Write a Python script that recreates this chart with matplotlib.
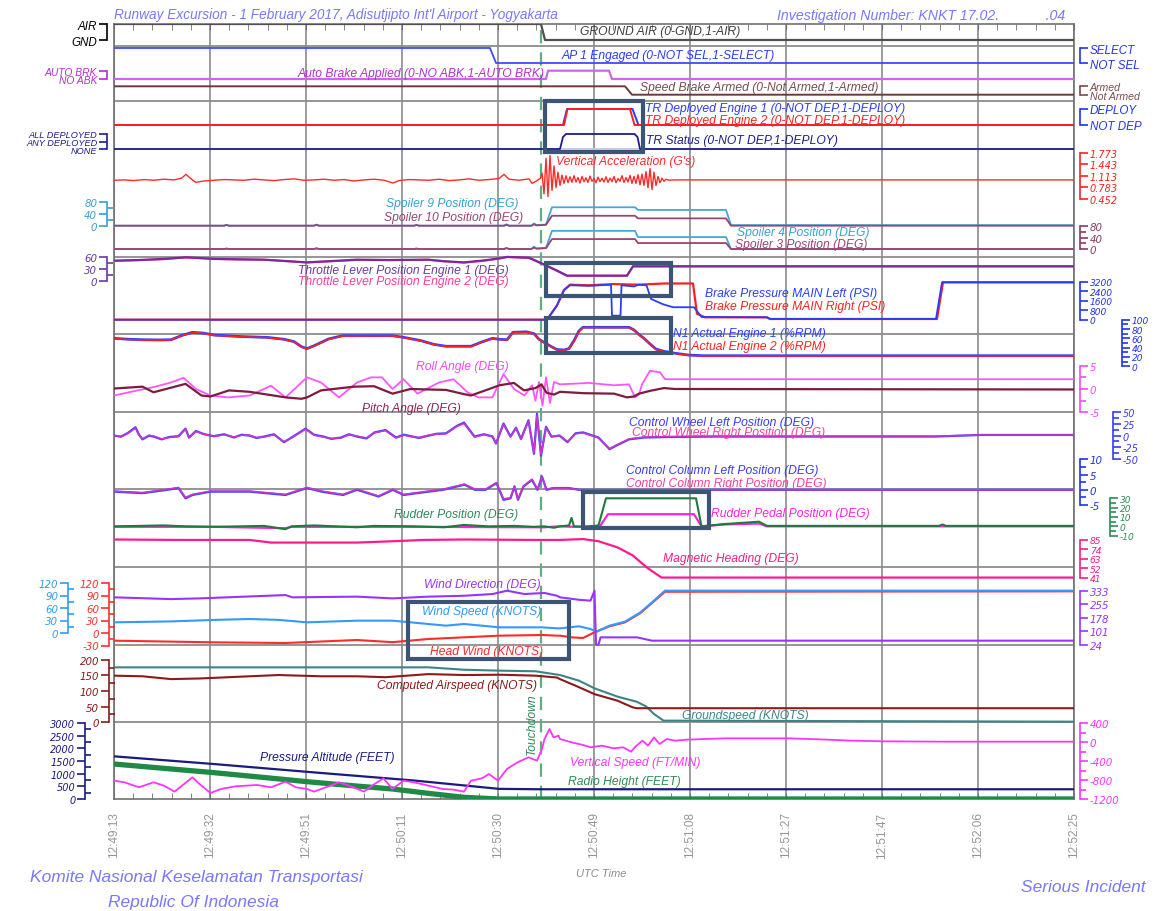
import matplotlib
matplotlib.use("Agg")
import matplotlib.pyplot as plt
from matplotlib.patches import Rectangle

plt.rcParams['font.family'] = ['Liberation Sans', 'DejaVu Sans']
plt.rcParams['font.style'] = 'italic'

# ---------------- data (time = seconds after 12:49:13 UTC) ----------------
time_labels = ["12:49:13", "12:49:32", "12:49:51", "12:50:11", "12:50:30", "12:50:49",
               "12:51:08", "12:51:27", "12:51:47", "12:52:06", "12:52:25"]
t_touchdown = 85.4

t_air = [0, 85.4, 86.2, 192]
gnd_air = [1, 1, 0, 0]
t_ap = [0, 75.2, 76.4, 192]
ap1 = [1, 1, 0, 0]
t_abk = [0, 86.4, 86.8, 99.0, 99.6, 192]
auto_brk = [0, 0, 1, 1, 0, 0]
t_sbk = [0, 102.2, 103.6, 192]
spd_brk = [1, 1, 0, 0]
t_tr1 = [0, 89.8, 90.6, 103.7, 104.9, 192]
tr1 = [0, 0, 1, 1, 0, 0]
t_tr2 = [0, 90.0, 90.7, 103.2, 104.1, 192]
tr2 = [0, 0, 1, 1, 0, 0]
t_trs = [0, 89.2, 89.8, 90.4, 104.1, 104.7, 105.2, 192]
tr_status = [0, 0, 1.6, 2, 2, 1.6, 0, 0]

t_va = [0, 2, 4, 6, 8, 10, 12, 13.5, 14.4, 15.5, 16.4, 18, 20, 22, 24, 26, 28, 30, 32, 34, 36,
        38, 40, 42, 44, 46, 48, 50, 52, 54, 55.8, 57, 59, 61, 63, 65, 67, 69, 71, 73, 75, 77,
        78, 79, 81, 83, 83.6, 84.5, 85.3,
        85.6, 86.0, 86.4, 86.8, 87.2, 87.6, 88.0, 88.4, 88.8, 89.2, 89.6, 90.0, 90.4, 90.8,
        91.2, 91.6, 92.0, 92.4, 92.8, 93.2, 93.6, 94.0, 94.4, 94.8, 95.2, 95.6, 96.0, 96.4,
        96.8, 97.2, 97.6, 98.0, 98.4, 98.8, 99.2, 99.6, 100.0, 100.4, 100.8, 101.2, 101.6,
        102.0, 102.4, 102.8, 103.2, 103.6, 104.0, 104.4, 104.8, 105.2, 105.6, 106.0, 106.4,
        106.8, 107.2, 107.6, 108.0, 108.4, 108.8, 109.2, 109.6, 110.0, 110.4, 111.0, 112.0, 192]
vert_acc = [0.99, 1.00, 0.98, 1.01, 0.99, 1.02, 1.00, 1.05, 1.16, 1.02, 0.93, 0.97, 0.99, 1.01,
            1.00, 0.99, 1.02, 1.00, 0.98, 1.01, 1.03, 0.99, 1.00, 1.02, 0.99, 1.01, 0.97, 1.00,
            1.02, 0.99, 0.91, 0.98, 1.01, 1.00, 0.99, 1.02, 0.98, 1.00, 1.03, 0.99, 1.01, 1.04,
            1.16, 1.02, 0.99, 1.03, 0.90, 0.97, 1.05,
            1.20, 0.60, 1.62, 0.52, 1.70, 0.70, 1.40, 0.78, 1.22, 0.84, 1.14, 0.90, 1.12, 0.92,
            1.09, 0.93, 1.12, 0.94, 1.07, 0.91, 1.10, 0.95, 1.06, 0.93, 1.11, 0.96, 1.04, 0.92,
            1.08, 0.95, 1.05, 0.94, 1.09, 0.93, 1.05, 0.95, 1.10, 0.92, 1.04, 0.96, 1.12, 0.93,
            1.07, 0.94, 1.13, 0.90, 1.10, 0.90, 1.15, 0.86, 1.17, 0.84, 1.24, 0.78, 1.33, 0.72,
            1.22, 0.84, 1.10, 0.92, 1.05, 0.96, 1.02, 0.99, 1.00, 1.00]

t_spl = [0, 22, 22.5, 23, 40, 40.5, 41, 60, 60.5, 61, 78, 78.5, 79, 83.5, 84, 84.5, 86.4, 87.6,
         104.2, 104.8, 122.4, 123.4, 192]
spoiler9 = [0, 0, 3, 0, 0, 4, 0, 0, 3, 0, 0, 5, 0, 0, 8, 2, 4, 63, 63, 54, 54, 2, 2]
spoiler10 = [0, 0, 2, 0, 0, 3, 0, 0, 2, 0, 0, 3, 0, 0, 5, 1, 3, 34, 34, 25, 25, 0, 0]
spoiler4 = [0, 0, 2, 0, 0, 3, 0, 0, 2, 0, 0, 4, 0, 0, 8, 2, 4, 64, 64, 42, 42, 0, 0]
spoiler3 = [0, 0, 1, 0, 0, 2, 0, 0, 1, 0, 0, 3, 0, 0, 5, 1, 3, 35, 35, 21, 21, 0, 0]

t_thr = [0, 5, 10, 14.4, 20, 25, 30, 38.6, 43, 48.6, 55, 62.8, 66, 70, 74, 77.2, 78.6, 83,
         85.8, 88.6, 90.6, 102.6, 103.8, 192]
thr1 = [51.5, 53, 56, 60, 56, 55, 54, 47, 50, 54, 53, 54, 50, 47, 52, 57.4, 61, 59, 43, 26,
        13, 13, 37, 37]
thr2 = [50.5, 52.5, 55, 59.5, 55.5, 54, 53.5, 46.5, 49.5, 53, 52.5, 53.5, 49.5, 46, 51, 57,
        60.5, 58, 42, 25, 12.5, 12.5, 36.5, 36.5]

t_brk_r = [0, 86.6, 88.6, 90, 91.2, 95, 100, 105, 110, 115.8, 116.6, 118.2, 130.6, 131.2,
           164.6, 165.8, 192]
brake_r = [0, 0, 1200, 2500, 2950, 2900, 3000, 2950, 3050, 3050, 500, 200, 200, 60, 60, 3150, 3150]
t_brk_l = [0, 86.6, 88.6, 90, 91.2, 95, 99.4, 99.6, 101.3, 101.5, 104, 105, 106.5, 107.4,
           109.8, 111.8, 116, 117.5, 130.6, 131.2, 164.4, 165.6, 192]
brake_l = [0, 0, 1200, 2500, 2900, 2850, 2950, 340, 340, 2900, 2800, 2950, 2900, 1750, 1300,
           1050, 1050, 230, 200, 60, 60, 3150, 3150]

t_n1 = [0, 3, 5.7, 9, 11.4, 13.5, 15.7, 18, 20, 25, 30.7, 34, 36, 37.5, 38.6, 40, 42.9, 45.7,
        55.7, 58, 61.4, 64, 66.4, 71.4, 73.5, 75.7, 77, 78.6, 79.8, 82.5, 84, 85, 86, 87.5,
        88.6, 90, 91, 92, 93, 93.8, 103, 104, 105, 106, 107.3, 108.4, 110, 112.2, 115, 118, 192]
n1_eng1 = [60, 58, 57, 56.5, 57, 66, 73, 71, 67, 64, 62, 58, 53, 42, 38, 44, 58.6, 65.7, 65.7,
           62, 55, 47, 43, 43, 52, 60, 58, 57, 73, 74, 70, 58, 51.5, 42, 36, 35, 38, 55, 76,
           83.7, 83.7, 78, 68, 60, 47, 37, 32, 28, 24, 22.7, 22.7]
n1_eng2 = [59.5, 57.5, 56.5, 56, 56.5, 65.5, 72.5, 70.5, 66.5, 63.5, 61.5, 57.5, 52.5, 41.5,
           37.5, 43.5, 58, 65, 65.2, 61.5, 54.5, 46.5, 42.5, 42.5, 51.5, 59.5, 57.5, 56.5, 72.5,
           73.5, 69.5, 57.5, 51, 41.5, 35.5, 34.5, 37.5, 54, 75, 83.2, 83.2, 77.5, 67.5, 59.5,
           46.5, 36.5, 31.5, 27.5, 23.5, 22.2, 22.2]

t_roll = [0, 4.3, 7.9, 11.4, 13.9, 16.4, 19.3, 22.9, 27.1, 31.4, 34.3, 38.6, 41.4, 45, 48.6,
          51.4, 53.6, 55.7, 57.9, 60.7, 65, 67.9, 70.7, 72.9, 75.7, 77.9, 80, 82.1, 83.6, 84.3,
          85.0, 85.7, 86.4, 87.2, 88.0, 89.2, 95, 100, 103, 104.2, 105.0, 105.6, 107.2, 109.2,
          110.2, 192]
roll = [-1.4, -0.4, 0.4, 1.4, 2.4, 0, -1.4, -1.8, -1.4, 0.7, -1.8, 2.5, 1.4, -1.8, 1.4, 2.5,
        2.5, 0, 2.1, -1, 1.4, 2.1, -0.7, -1.8, -1.8, 3.2, 0, -1.4, 0.8, -2.5, 1.5, -3.6, 2.5,
        -3.0, 1.5, 1.0, 1.3, 0.8, 1.0, -1.8, -1.2, 1.0, 3.9, 3.6, 2.1, 2.1]
t_pitch = [0, 5.7, 7.9, 14.3, 17.5, 19.3, 23, 27.1, 34.3, 37.5, 38.6, 41.4, 48, 52, 55.7, 59.3,
           66.4, 70, 71.4, 77.1, 80, 82, 84.3, 85.5, 86.5, 88, 89.2, 94, 100, 102.6, 104, 105,
           107.2, 110, 112.2, 192]
pitch = [0.1, 0.5, -0.7, 1.1, -1.4, -1.6, -0.3, -0.6, -1.8, -2.1, -1.8, -0.3, 0.5, 0.6, -1.0,
         0, -0.2, -1.1, -1.4, 0.8, 1.3, -0.3, 0.2, 1.0, -0.8, -1.2, -0.6, -0.9, -1.0, -1.8,
         -1.6, -1.0, -0.4, 0.2, 0, -0.1]

t_cw = [0, 1.4, 2.8, 4.3, 5.0, 5.7, 7.0, 7.9, 9.5, 11.0, 12.9, 14.3, 15.0, 16.4, 17.8, 19.3,
        20.0, 22.0, 24.0, 25.5, 27.1, 28.5, 30, 32.0, 34.0, 35.5, 37.0, 38.3, 40.0, 41.9, 43.5,
        45.4, 47.0, 48.6, 50.5, 52.1, 54.3, 56.4, 58.0, 59.3, 61.0, 62.9, 64.5, 66.4, 68.6,
        70.0, 72.1, 74.0, 75.7, 76.4, 77.9, 79.3, 80.4, 81.4, 82.9, 84.0, 84.6, 85.4, 86.4,
        87.5, 89.1, 90.7, 92.3, 93.8, 96.9, 99.1, 100.7, 103.0, 106.0, 110.6, 119.8, 164.2,
        173.4, 192]
wheel_l = [0, -2, 6, 18, 2, -8, 0, -2, -8, -3, -1, 15, -4, 10, 4, 0, -1, 3, -4, 2, 0, -5, -2,
           3, -14, -4, 6, 15, 2, -2, -7, -4, 3, -2, -6, 7, 12, -4, 2, -1, -5, 0, 4, 5, 21, 28,
           -2, 3, -2, -17, 26, -2, 17, -7, 33, -39, 47, -43, 19, -2, 0, -14, 5, 7, -4, -29, -20,
           -8, -4, -3, -2, -2, 1.5, 1.5]
wheel_r = [1, -3, 5, 16, 1, -7, 1, -1, -7, -4, -2, 14, -5, 9, 3, 1, -2, 2, -3, 1, 1, -4, -3,
           2, -13, -5, 5, 14, 1, -3, -6, -5, 2, -1, -5, 6, 11, -5, 1, -2, -4, 1, 3, 4, 20, 26,
           -3, 2, -1, -16, 24, -3, 16, -8, 31, -37, 44, -41, 17, -3, 1, -13, 4, 6, -5, -28, -19,
           -7, -3, -2, -1, -1, 1.5, 1.5]

t_cc = [0, 5.7, 10.7, 12.9, 14.3, 15.7, 19.3, 27.1, 34.3, 38.6, 41.5, 45.8, 48.6, 52.9, 55.8,
        57.9, 62.9, 65.8, 70.1, 72.2, 74.3, 76.5, 77.9, 79.3, 80.1, 80.8, 81.9, 83.6, 84.7,
        85.6, 86.5, 87.9, 89.2, 91, 93, 192]
column_l = [-0.6, -1.1, 0, 0.6, -2.8, -1.7, -0.6, -0.6, -1.7, 0.6, -0.6, -1.7, 0, -2.2, 0,
            -1.7, -0.6, 0, 1.7, 0, 0, 2.2, -3.3, -2.8, 1.1, -3.3, 1.1, 3.3, 0, 4.4, 0, 0.6,
            0.6, 0.6, 0, 0]
column_r = [-0.4, -0.9, 0.2, 0.8, -2.5, -1.5, -0.4, -0.4, -1.5, 0.8, -0.4, -1.5, 0.2, -2.0,
            0.2, -1.5, -0.4, 0.2, 1.9, 0.2, 0.2, 2.4, -3.0, -2.6, 1.3, -3.0, 1.3, 3.5, 0.2,
            4.2, 0.2, 0.6, 0.5, 0.5, 0, 0]

t_rud = [0, 10, 14.3, 20, 30, 34.3, 35.5, 40, 48.6, 52, 60, 66, 70, 75, 80, 84, 86, 88, 89.2,
         91.0, 91.5, 92.0, 94, 96.9, 98.4, 116.4, 117.5, 122.1, 125, 129, 130.6, 165, 165.7,
         166.4, 192]
rudder = [0, 1, 0, -0.5, 0.5, -3, 0, 1, -1, 0.5, 0, -1, 1.5, 0, 0.5, -0.5, 0, -1.5, 0, 1, 9, 0,
          -0.5, 1, 30, 30, 0, 2.5, 3.5, 5, 0.5, 0.5, 2, 0.5, 0.5]
t_ped = [0, 20, 34.3, 35.5, 60, 86, 89, 92, 97.2, 98.8, 116.0, 117.5, 122.1, 129, 130.6, 192]
pedal = [-0.5, -0.5, -2, -0.5, -0.5, -1, 0, -0.5, 0, 13, 13, 0, 2, 3, 0, 0]

t_hdg = [0, 12.9, 27.1, 31.4, 40, 48.6, 55.7, 62, 70, 84.3, 89.2, 93.8, 96.9, 100.7, 103.7,
         106.8, 109.5, 192]
heading = [85, 84.5, 84.5, 81.5, 81.5, 81.5, 83, 84.5, 85, 84.5, 84.5, 85.5, 83, 76, 67, 52,
           41.5, 41.5]

t_wd = [0, 11.4, 17.1, 34.3, 35.7, 48.6, 55.7, 62.9, 70, 75.7, 78.6, 82.1, 86.1, 88.6, 89.2,
        93, 95.3, 96.1, 96.4, 96.9, 97.3, 104.6, 107.6, 192]
wind_dir = [295, 285, 289, 308, 295, 299, 289, 299, 304, 314, 333, 314, 320, 304, 295, 281,
            276, 333, 24, 24, 66, 66, 47, 47]
t_ws = [0, 11.4, 20, 27.1, 32.9, 38.6, 48.6, 55.7, 59.3, 66.4, 70, 77.1, 85.7, 88.6, 89.2, 93,
        95.3, 96.5, 99.1, 102.2, 105.3, 107.6, 110.2, 192]
wind_spd = [25.6, 27.8, 31.4, 33.6, 31.5, 25.6, 29.6, 29.6, 25.6, 17.6, 21.6, 13.6, 13.6, 11.2,
            11.2, 16, 9.6, 3.2, 17.6, 27.2, 49.6, 73.6, 101.6, 101.6]
t_hw = [0, 20, 34.3, 48.6, 55.7, 62.9, 70, 77.1, 85.7, 88.6, 89.2, 91.5, 93.8, 96.1, 99.1,
        102.2, 105.3, 107.6, 110.2, 192]
head_wind = [-18.4, -22.4, -24, -16.8, -22, -14.4, -10.4, -6.4, -4.8, -6.4, -6.4, -10.4, -12,
             1.6, 16, 25.6, 48, 72, 99, 100]

t_cas = [0, 5.7, 11.4, 17.1, 27.1, 32.9, 41.5, 48.6, 54.3, 62.9, 70, 77.1, 84.3, 88.6, 89.2,
         92.3, 96.1, 100.7, 103.7, 104.5, 192]
cas = [149, 147, 138, 140, 147, 151, 147, 147, 144, 154, 151, 152, 149, 143, 138, 117, 90, 69,
       48, 45, 45]
t_gs = [0, 62.9, 70, 77.1, 84.3, 89.2, 93, 96.1, 100.7, 104.5, 106.4, 108, 109.9, 192]
gs = [175.6, 175.6, 168, 165, 163, 151, 133, 108.6, 82, 66, 51, 26.5, 5.3, 2]

t_pa = [0, 20, 40, 60, 77, 85, 192]
press_alt = [1684, 1380, 1050, 730, 400, 385, 385]
t_rh = [0, 10, 19.3, 30, 38.6, 48, 55.7, 63, 70, 77.1, 192]
radio_ht = [1381, 1210, 1052, 850, 684, 520, 395, 220, 66, 0, 0]
t_vs = [0, 2.1, 5, 7.9, 10, 12.1, 13.6, 15.7, 17.1, 19.3, 21.4, 24.3, 28.6, 31.4, 34.3, 36.4,
        38.6, 40, 42.9, 45, 47.9, 50, 52.1, 53.9, 55.7, 57.9, 60, 62.9, 65.7, 67.9, 70, 71.4,
        73.6, 75, 76.8, 78.6, 80.7, 82.9, 84.6, 85.6, 86.1, 87.1, 87.9, 88.9, 89.2, 91.5, 93.8,
        95.3, 97.6, 99.9, 101.8, 103.4, 104.5, 105.7, 106.8, 108, 109.1, 110.6, 112.2, 114.5,
        122.1, 135.1, 142.8, 147.4, 154.3, 165.7, 192]
vert_spd = [-814, -849, -954, -849, -919, -1045, -919, -744, -884, -1074, -989, -933, -905,
            -954, -835, -954, -989, -1045, -933, -849, -954, -1045, -884, -765, -989, -814,
            -849, -919, -989, -1003, -1045, -814, -765, -674, -814, -568, -428, -323, -393,
            -147, 63, 274, 98, 133, 63, -7, -63, -112, -77, -133, -112, -203, -77, 28, -77, 98,
            -42, 63, 28, 49, 77, 77, 49, 28, 14, 7, 7]

# ---------------- layout ----------------
W, H = 1160, 912
X_L, X_R, Y_T, Y_B = 114, 1074, 25, 800
T_END = 192
rect = [X_L / W, 1 - Y_B / H, (X_R - X_L) / W, (Y_B - Y_T) / H]

fig = plt.figure(figsize=(W / 100, H / 100), dpi=100)
base = fig.add_axes(rect, zorder=0)
base.set_xlim(0, T_END)
base.set_ylim(Y_B, Y_T)
base.set_yticks([])
base.set_xticks([i * T_END / 10 for i in range(11)], time_labels)
base.set_xticks([i * T_END / 50 for i in range(51)], minor=True)
base.tick_params(axis='x', which='both', direction='in', top=True, length=4, color='#707070')
base.tick_params(axis='x', which='major', labelrotation=90, labelsize=8.5, labelcolor='#959595', pad=9)
for lb in base.get_xticklabels():
    lb.set_fontstyle('normal')
base.grid(axis='x', color='#808080', lw=1.1)
for s in base.spines.values():
    s.set_color('#707070')
    s.set_linewidth(1.2)
for y in [47, 102, 258, 335, 412.5, 490, 568, 646, 723]:
    base.axhline(y, color='#8c8c8c', lw=1.3)
base.axhline(150, color='#c8c8e6', lw=1.3)
base.axvline(t_touchdown, ymax=0.995, color='#5fae80', ls=(0, (6, 4)), lw=1.6, zorder=30)


def layer(v_hi, p_hi, v_lo, p_lo, z=2):
    ax = fig.add_axes(rect, zorder=z)
    ax.set_xlim(0, T_END)
    k = (v_hi - v_lo) / (p_lo - p_hi)
    ax.set_ylim(v_lo - (Y_B - p_lo) * k, v_hi + (p_hi - Y_T) * k)
    ax.patch.set_visible(False)
    for s in ax.spines.values():
        s.set_visible(False)
    ax.set_xticks([])
    ax.set_yticks([])
    return ax


def scale(ax, side, off, ticks, labels, color, minor=None, size=None):
    sp = ax.spines[side]
    sp.set_visible(True)
    sp.set_position(('outward', off * 0.72))
    sp.set_bounds(min(ticks), max(ticks))
    sp.set_color(color)
    sp.set_linewidth(1.2)
    ax.set_yticks(ticks, labels)
    if minor:
        ax.set_yticks(minor, minor=True)
    ax.yaxis.set_ticks_position(side)
    ax.tick_params(axis='y', which='major', direction='out', length=6, width=1.2,
                   color=color, labelcolor=color, pad=1)
    ax.tick_params(axis='y', which='minor', direction='in' if side == 'left' else 'out',
                   length=4, width=1.2, color=color)
    numeric = all(lb.lstrip('-').replace('.', '').isdigit() for lb in labels)
    for lb in ax.get_yticklabels():
        if numeric:
            lb.set_family('DejaVu Sans')
            lb.set_fontsize(size or 7.4)
        else:
            lb.set_fontsize(size or 8.4)


# discretes
ax = layer(1, 25, 0, 41)
ax.plot(t_air, gnd_air, color='#505050', lw=1.6)
scale(ax, 'left', 7, [0, 1], ['GND', 'AIR'], 'black')

ax = layer(1, 49, 0, 64)
ax.plot(t_ap, ap1, color='#3a4cff', lw=1.3)
scale(ax, 'right', 6, [0, 1], ['NOT SEL', 'SELECT'], '#2233ee')

ax = layer(1, 71.7, 0, 80)
ax.plot(t_abk, auto_brk, color='#cc66ee', lw=1.6)
scale(ax, 'left', 7, [0, 1], ['NO ABK', 'AUTO BRK'], '#b030d0', size=7.4)

ax = layer(1, 87.3, 0, 95.7)
ax.plot(t_sbk, spd_brk, color='#6b3a3a', lw=1.4)
scale(ax, 'right', 6, [0, 1], ['Not Armed', 'Armed'], '#7b4b4b', size=7.6)

ax = layer(1, 110, 0, 126)
ax.plot(t_tr1, tr1, color='#2a3cff', lw=1.4)
ax.plot(t_tr2, tr2, color='#ff2020', lw=1.4)
scale(ax, 'right', 6, [0, 1], ['NOT DEP', 'DEPLOY'], '#2233ee')

ax = layer(2, 135, 0, 150)
ax.plot(t_trs, tr_status, color='#1c1c8c', lw=1.3)
scale(ax, 'left', 7, [0, 1, 2], ['NONE', 'ANY DEPLOYED', 'ALL DEPLOYED'], '#1c1c8c', size=6.6)

# vertical acceleration
ax = layer(1.773, 154, 0.452, 200)
ax.plot(t_va, vert_acc, color='#ff2a2a', lw=1.0)
scale(ax, 'right', 6, [0.452, 0.783, 1.113, 1.443, 1.773],
      ['0.452', '0.783', '1.113', '1.443', '1.773'], '#ff2020', size=7.0)

# spoilers
ax = layer(80, 203.3, 0, 226.7)
ax.plot(t_spl, spoiler9, color='#44a8d8', lw=1.3)
ax.plot(t_spl, spoiler10, color='#9b4373', lw=1.3)
scale(ax, 'left', 7, [0, 40, 80], ['0', '40', '80'], '#3aa0d0', minor=[20, 60])

ax = layer(80, 227.3, 0, 250)
ax.plot(t_spl, spoiler4, color='#44a8d8', lw=1.3)
ax.plot(t_spl, spoiler3, color='#9b4373', lw=1.3)
scale(ax, 'right', 6, [0, 40, 80], ['0', '40', '80'], '#8b3a62', minor=[20, 60])

# throttle
ax = layer(60, 258.3, 0, 281.7)
ax.plot(t_thr, thr2, color='#ff44aa', lw=1.4)
ax.plot(t_thr, thr1, color='#7a2a9a', lw=1.6)
scale(ax, 'left', 7, [0, 30, 60], ['0', '30', '60'], '#6a3aa0', minor=[15, 45])

# brake pressure
ax = layer(3200, 282.7, 0, 320.7)
ax.plot(t_brk_r, brake_r, color='#ff2020', lw=1.6)
ax.plot(t_brk_l, brake_l, color='#2a3cff', lw=1.3)
scale(ax, 'right', 6, [0, 800, 1600, 2400, 3200], ['0', '800', '1600', '2400', '3200'], '#2233ee',
      size=6.6)

# N1
ax = layer(100, 320.7, 0, 367.3)
ax.plot(t_n1, n1_eng1, color='#2a3cff', lw=2.0)
ax.plot(t_n1, n1_eng2, color='#ff2020', lw=1.1)
scale(ax, 'right', 48, [0, 20, 40, 60, 80, 100], ['0', '20', '40', '60', '80', '100'], '#2233ee',
      minor=[10, 30, 50, 70, 90], size=6.6)

# roll / pitch
ax = layer(5, 366.7, -5, 413.3)
ax.plot(t_roll, roll, color='#ff55ff', lw=1.3)
ax.plot(t_pitch, pitch, color='#7d1c3c', lw=1.6)
scale(ax, 'right', 6, [-5, 0, 5], ['-5', '0', '5'], '#ff44ff', minor=[-2.5, 2.5])

# control wheel
ax = layer(50, 413.3, -50, 460)
ax.plot(t_cw, wheel_l, color='#4444ff', lw=1.6)
ax.plot(t_cw, wheel_r, color='#cc33cc', lw=1.1)
scale(ax, 'right', 39, [-50, -25, 0, 25, 50], ['-50', '-25', '0', '25', '50'], '#3a3aff',
      minor=[-37.5, -12.5, 12.5, 37.5], size=7.0)

# control column
ax = layer(10, 460.5, -5, 506)
ax.plot(t_cc, column_l, color='#4444ff', lw=1.6)
ax.plot(t_cc, column_r, color='#cc33cc', lw=1.1)
scale(ax, 'right', 6, [-5, 0, 5, 10], ['-5', '0', '5', '10'], '#2233ee', minor=[-2.5, 2.5, 7.5])

# rudder
ax = layer(30, 499.3, -10, 536.7)
ax.plot(t_ped, pedal, color='#ff22dd', lw=1.6)
ax.plot(t_rud, rudder, color='#1e7a3e', lw=1.5)
scale(ax, 'right', 36, [-10, 0, 10, 20, 30], ['-10', '0', '10', '20', '30'], '#2e8b57',
      minor=[-5, 5, 15, 25], size=6.6)

# magnetic heading
ax = layer(85, 540.5, 41, 579)
ax.plot(t_hdg, heading, color='#ff1a8c', lw=1.6)
scale(ax, 'right', 6, [41, 52, 63, 74, 85], ['41', '52', '63', '74', '85'], '#ff1a80', size=6.6)

# wind
ax = layer(120, 584, 0, 634)
ax.plot(t_hw, head_wind, color='#ff2a2a', lw=1.5)
scale(ax, 'left', 5, [-30, 0, 30, 60, 90, 120], ['-30', '0', '30', '60', '90', '120'], '#ff3030',
      minor=[-15, 15, 45, 75, 105])
ax = layer(120, 584, 0, 634)
ax.plot(t_ws, wind_spd, color='#3399ff', lw=1.5)
scale(ax, 'left', 46, [0, 30, 60, 90, 120], ['0', '30', '60', '90', '120'], '#3399ff',
      minor=[15, 45, 75, 105])
ax = layer(333, 591.7, 24, 645.7)
ax.plot(t_wd, wind_dir, color='#9933ff', lw=1.5)
scale(ax, 'right', 6, [24, 101, 178, 255, 333], ['24', '101', '178', '255', '333'], '#9933ff')

# speeds
ax = layer(200, 660.7, 0, 723.3)
ax.plot(t_gs, gs, color='#3d8585', lw=1.5)
ax.plot(t_cas, cas, color='#8b1a1a', lw=1.5)
scale(ax, 'left', 5, [0, 50, 100, 150, 200], ['0', '50', '100', '150', '200'], '#8b1a1a',
      minor=[25, 75, 125, 175])

# altitude / vertical speed
ax = layer(3000, 724, 0, 800)
ax.plot(t_rh, radio_ht, color='#1f8a45', lw=3.8)
ax.plot(t_pa, press_alt, color='#1a1a80', lw=1.6)
scale(ax, 'left', 29, [0, 500, 1000, 1500, 2000, 2500, 3000],
      ['0', '500', '1000', '1500', '2000', '2500', '3000'], '#1a1a80',
      minor=[250, 750, 1250, 1750, 2250, 2750], size=7.0)
ax = layer(400, 724, -1200, 800)
ax.plot(t_vs, vert_spd, color='#ff33ff', lw=1.3)
scale(ax, 'right', 6, [-1200, -800, -400, 0, 400], ['-1200', '-800', '-400', '0', '400'], '#ff33ff',
      minor=[-1000, -600, -200, 200])

# ---------------- overlay: boxes and parameter names ----------------
top = fig.add_axes(rect, zorder=50)
top.set_xlim(0, T_END)
top.set_ylim(Y_B, Y_T)
top.axis('off')

box = '#3c5475'
for x0, x1, y0, y1 in [(86.2, 105.8, 102, 153), (86.4, 111.4, 263.5, 297), (86.4, 111.4, 318.5, 354),
                       (93.8, 118.9, 492.7, 529.3), (58.8, 90.9, 602.7, 660)]:
    top.add_patch(Rectangle((x0, y0), x1 - x0, y1 - y0, fill=False, ec=box, lw=3))

names = [
    (93.2, 32.5, "GROUND AIR (0-GND,1-AIR)", '#404040', 'left'),
    (89.6, 56, "AP 1 Engaged (0-NOT SEL,1-SELECT)", '#2a3cff', 'left'),
    (86.2, 74, "Auto Brake Applied (0-NO ABK,1-AUTO BRK)", '#b030d0', 'right'),
    (105.2, 88.3, "Speed Brake Armed (0-Not Armed,1-Armed)", '#7b4b4b', 'left'),
    (106.2, 109.3, "TR Deployed Engine 1 (0-NOT DEP,1-DEPLOY)", '#2a3cff', 'left'),
    (106.2, 120.7, "TR Deployed Engine 2 (0-NOT DEP,1-DEPLOY)", '#ff2020', 'left'),
    (106.4, 140.7, "TR Status (0-NOT DEP,1-DEPLOY)", '#1c1c8c', 'left'),
    (88.4, 161.5, "Vertical Acceleration (G's)", '#ff2a2a', 'left'),
    (80.8, 204, "Spoiler 9 Position (DEG)", '#3aa0d0', 'right'),
    (81.8, 217.7, "Spoiler 10 Position (DEG)", '#9b4373', 'right'),
    (124.6, 232.7, "Spoiler 4 Position (DEG)", '#3aa0d0', 'left'),
    (124.2, 245, "Spoiler 3 Position (DEG)", '#9b4373', 'left'),
    (79, 270.7, "Throttle Lever Position Engine 1 (DEG)", '#6a3aa0', 'right'),
    (79, 282.3, "Throttle Lever Position Engine 2 (DEG)", '#ff3d9a', 'right'),
    (118.2, 294.3, "Brake Pressure MAIN Left (PSI)", '#2a3cff', 'left'),
    (118.2, 306.7, "Brake Pressure MAIN Right (PSI)", '#ff2020', 'left'),
    (111.8, 334.3, "N1 Actual Engine 1 (%RPM)", '#2a3cff', 'left'),
    (111.8, 347.3, "N1 Actual Engine 2 (%RPM)", '#ff2020', 'left'),
    (60.4, 367.3, "Roll Angle (DEG)", '#ff44ff', 'left'),
    (49.7, 409.3, "Pitch Angle (DEG)", '#8b2252', 'left'),
    (103.0, 423.3, "Control Wheel Left Position (DEG)", '#3a3aff', 'left'),
    (103.6, 433.3, "Control Wheel Right Position (DEG)", '#ff3d9a', 'left'),
    (102.4, 470.7, "Control Column Left Position (DEG)", '#3a3aff', 'left'),
    (102.4, 484.3, "Control Column Right Position (DEG)", '#ff3d9a', 'left'),
    (56.1, 515.3, "Rudder Position (DEG)", '#2e8b57', 'left'),
    (119.4, 514.3, "Rudder Pedal Position (DEG)", '#ff22dd', 'left'),
    (109.8, 559.3, "Magnetic Heading (DEG)", '#ff1a80', 'left'),
    (62.0, 585, "Wind Direction (DEG)", '#9933ff', 'left'),
    (61.7, 612.3, "Wind Speed (KNOTS)", '#3399ff', 'left'),
    (63.1, 651.7, "Head Wind (KNOTS)", '#ff2a2a', 'left'),
    (52.6, 686, "Computed Airspeed (KNOTS)", '#8b1a1a', 'left'),
    (113.7, 716, "Groundspeed (KNOTS)", '#3d8585', 'left'),
    (29.1, 758.3, "Pressure Altitude (FEET)", '#1a1a80', 'left'),
    (91.3, 763.3, "Vertical Speed (FT/MIN)", '#ff33ff', 'left'),
    (90.7, 782, "Radio Height (FEET)", '#2e8b57', 'left'),
]
for x, y, s, c, ha in names:
    top.text(x, y, s, color=c, ha=ha, va='center', fontsize=8.7)
top.text(83.6, 724, "Touchdown", color='#2e8b57', rotation=90, ha='center', va='center', fontsize=8.7)

blue_txt = '#7878ff'
fig.text(X_L / W, 1 - 15 / H, "Runway Excursion - 1 February 2017, Adisutjipto Int'l Airport - Yogyakarta",
         color=blue_txt, fontsize=9.8, va='center', ha='left')
fig.text(1065 / W, 1 - 16 / H, "Investigation Number: KNKT 17.02.            .04",
         color=blue_txt, fontsize=10.2, va='center', ha='right')
fig.text(30 / W, 1 - 878 / H, "Komite Nasional Keselamatan Transportasi", color=blue_txt,
         fontsize=12.5, va='center', ha='left')
fig.text(108 / W, 1 - 903 / H, "Republic Of Indonesia", color=blue_txt, fontsize=12.5, va='center', ha='left')
fig.text(1146 / W, 1 - 888 / H, "Serious Incident", color=blue_txt, fontsize=12.5, va='center', ha='right')
fig.text(601 / W, 1 - 874 / H, "UTC Time", color='#8c8c8c', fontsize=8, va='center', ha='center')

fig.savefig("out.png", dpi=100)
